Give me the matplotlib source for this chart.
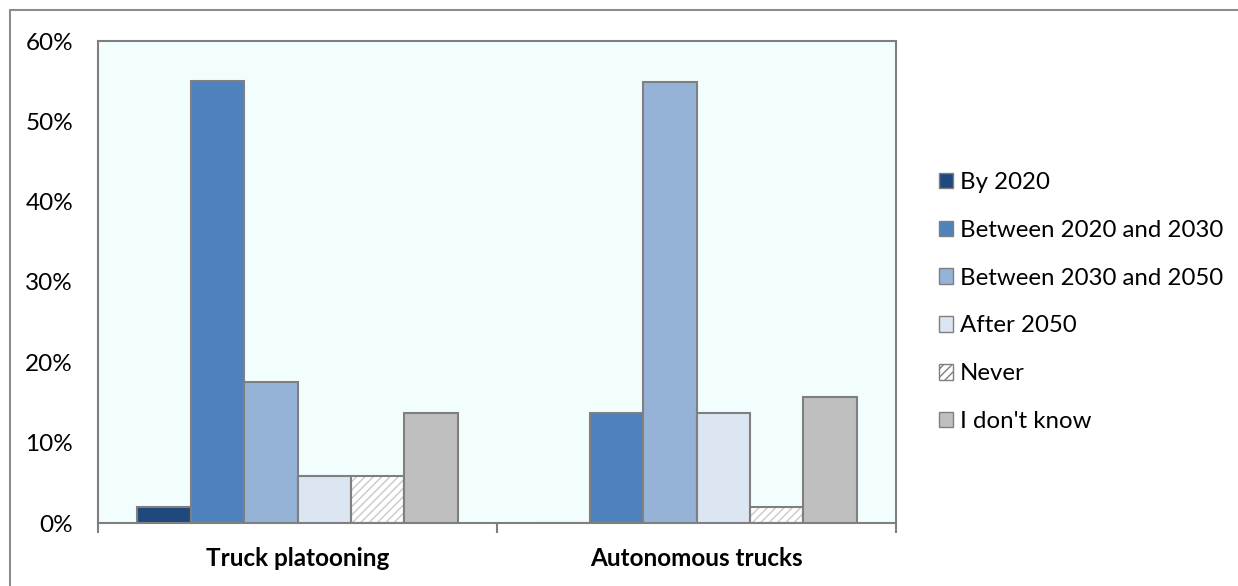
import matplotlib
matplotlib.use("Agg")
import matplotlib.pyplot as plt
import numpy as np
from matplotlib.patches import Rectangle, Patch

categories = ["Truck platooning", "Autonomous trucks"]
series_names = ["By 2020", "Between 2020 and 2030", "Between 2030 and 2050",
                "After 2050", "Never", "I don't know"]
by_2020 = [2.0, 0.0]
between_2020_2030 = [55.0, 13.7]
between_2030_2050 = [17.6, 54.9]
after_2050 = [5.9, 13.7]
never = [5.9, 2.0]
dont_know = [13.7, 15.7]
series_values = [by_2020, between_2020_2030, between_2030_2050, after_2050, never, dont_know]
colors = ["#1F497D", "#4F81BD", "#95B3D7", "#DCE6F2", "#FFFFFF", "#BFBFBF"]
yticks = [0, 10, 20, 30, 40, 50, 60]
ytick_labels = ["0%", "10%", "20%", "30%", "40%", "50%", "60%"]

plt.rcParams['font.family'] = ['Lato', 'DejaVu Sans']
fig = plt.figure(figsize=(12.38, 5.86), dpi=100)
ax = fig.add_axes([98/1238, 63/586, 798/1238, 482/586])
ax.set_facecolor("#F2FEFE")

edge = "#7F7F7F"
w = 0.1337
x = np.arange(len(categories))
for i, (vals, c) in enumerate(zip(series_values, colors)):
    off = (i - 2.5) * w
    if series_names[i] == "Never":
        ax.bar(x + off, vals, w, color=c, edgecolor="#C8C8C8", hatch="////", linewidth=0, zorder=2)
        ax.bar(x + off, vals, w, color="none", edgecolor=edge, linewidth=1.5, zorder=3)
    else:
        ax.bar(x + off, vals, w, color=c, edgecolor=edge, linewidth=1.5, zorder=3)

ax.set_xlim(-0.5, 1.5)
ax.set_ylim(0, 60)
ax.set_yticks(yticks)
ax.set_yticklabels(ytick_labels, fontsize=17.5)
ax.tick_params(axis='y', length=0, pad=18)
ax.set_xticks(x)
ax.set_xticklabels(categories, fontsize=17.5, fontweight='bold')
ax.tick_params(axis='x', which='major', length=0, pad=17)
ax.set_xticks([-0.5, 0.5, 1.5], minor=True)
ax.tick_params(axis='x', which='minor', length=7, width=1.5, color=edge, direction='out')
for s in ax.spines.values():
    s.set_color(edge)
    s.set_linewidth(1.5)

handles = []
for name, c in zip(series_names, colors):
    if name == "Never":
        handles.append(Patch(facecolor=c, edgecolor=edge, hatch="////", label=name))
    else:
        handles.append(Patch(facecolor=c, edgecolor=edge, label=name))
leg = fig.legend(handles=handles, loc='center left', bbox_to_anchor=(917/1238, 1 - 302/586),
                 frameon=False, fontsize=17.3, handlelength=0.6, handleheight=0.6,
                 handletextpad=0.3, labelspacing=1.12)

fig.patches.append(Rectangle((10/1238, -0.1), 1.2, 1.1 - 10/586, transform=fig.transFigure,
                             fill=False, edgecolor="#8C8C8C", linewidth=1.5))
fig.savefig("out.png", dpi=100)
